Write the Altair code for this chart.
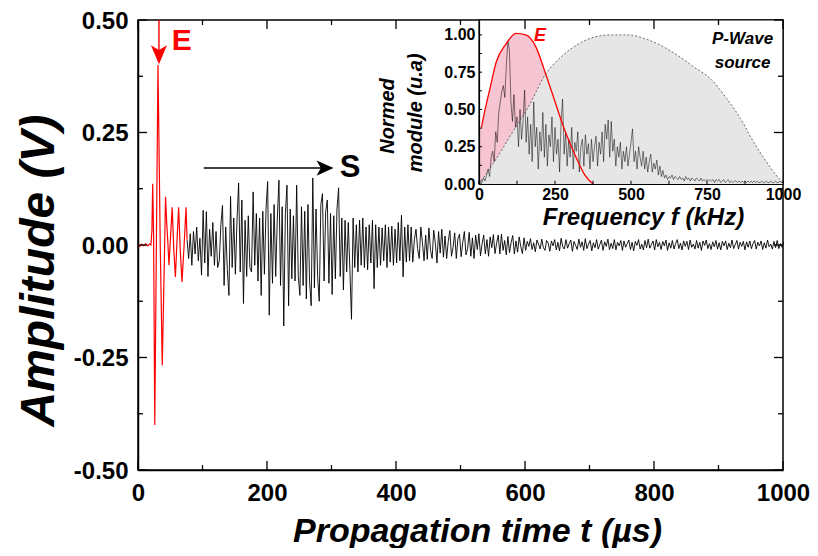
import altair as alt
import pandas as pd

F = "Liberation Sans, Arial, sans-serif"

# ---------------- main signal ----------------
# red part (E wave), time in µs, amplitude in V
red_t = [0, 3, 6, 9, 12, 15, 18, 20, 21.5, 22.8, 24.2, 26, 28.5, 31, 34.5, 37.6, 40.5, 42.7,
         44.5, 46.5, 48, 50.5, 53, 55.5, 58, 60.5, 63, 65.5, 68.2, 71.5, 74.5, 76]
red_v = [0.0, -0.003, 0.002, -0.002, 0.003, -0.002, 0.002, 0.0, 0.03, 0.136, 0.02, -0.40, 0.0,
         0.40, 0.0, -0.267, -0.06, 0.107, 0.05, 0.0, -0.045, 0.02, 0.084, -0.01, -0.071, 0.01,
         0.084, -0.01, -0.082, 0.0, 0.084, 0.012]

# black part (S coda), mV, sampled every 2.5 µs from 76 µs
black_mv = [
    12, -30, 25, -45, 30, -20, 40, -35, 15, -67, 77, -40, 74, -70, 35, -25, 50, -45, 30, -50,
    -35, 45, 88, -90, 40, -55, -112, 108, -50, 60, -65, 55, 138, -60, 100, -130, 55, -70, 65, -50,
    -60, 118, -45, 70, -80, 60, -112, 75, -65, 80, 141, -156, 70, -85, 90, -70, 60, 144, -90, 85,
    -180, 70, 133, -135, 80, -75, 65, -80, 133, -70, -112, 85, -90, 75, -120, 90, -80, -135, 149, -95,
    80, -70, -125, 90, 114, -80, 75, 100, -85, 70, -110, 65, -75, 80, 127, -70, 60, -100, 55, -60,
    50, -55, -165, 60, -50, 45, -60, 55, -45, 60, -50, 40, -55, 45, -40, 55, -97, 45, -50, 40,
    -45, 38, -35, 45, -50, 40, -38, 42, -45, 35, -40, 50, -35, 66, -71, 40, -38, 45, -35, 40,
    -38, 12, 35, -8, -30, 40, 5, -35, 22, -32, 38, -12, -30, 33, 4, -40, 30, -18, 35, -27,
    20, -30, 8, 32, -25, -5, 27, -30, 14, 24, -26, 6, 30, -22, -8, 28, -25, 16, -30, 22,
    -10, 25, -24, 3, 22, -20, 12, -25, 18, -6, 23, -19, 4, 22, -20, 24, -12, 10, -22, 19,
    -17, 6, 21, -20, 9, -16, 18, -4, -19, 16,
    -12, 8, -3, 14, -10, 5, -15, 11, 2, -9, 13, -6, -12, 10, 4, -14, 9, -2, 12, -11,
    6, -13, 15, -4, -9, 12, -7, 3, 11, -14, 8, -1, -10, 13, -5, 7, -12, 14, -8, 2,
    10, -13, 5, -6, 12, -9, 1, 11, -12, 7, -3, 13, -10, 4, -8, 12, -11, 6, -2, 10,
    -12, 9, -5, 3, 11, -10, 6, -13, 8, -1, 12, -9, 2, -11, 10, -6, 13, -7, 1, 9,
    -11, 12, -4, 6, -10, 8, -2, 11, -12, 5, -7, 10, -9, 3, 12, -8, 4, -11, 9, -3,
    8, -10, 11, -5, 2, -9, 10, -7, 6, -12, 9, -1, 11, -8, 3, -10, 7, -4, 10, -9,
    5, -11, 8, -2, 9, -10, 4, -6, 11, -8, 1, 10, -9, 6, -3, 8, -11, 7, -5, 9,
    -8, 3, 10, -9, 6, -2, 9, -10, 5, -7, 11, -4, 2, -9, 8, -6, 10, -8, 3, -5, 6]
BLACK_T0, BLACK_DT = 76, 2.5

# ---------------- inset spectra ----------------
# measured spectrum, sampled every 5 kHz from 0
spec_mod = [
    0.00, 0.02, 0.01, 0.04, 0.02, 0.06, 0.10, 0.05, 0.18, 0.22, 0.15, 0.35, 0.28, 0.48, 0.55, 0.62, 0.66, 0.58, 0.80, 0.96,
    0.90, 0.55, 0.42, 0.60, 0.38, 0.45, 0.25, 0.50, 0.30, 0.42, 0.63, 0.28, 0.45, 0.20, 0.40, 0.15, 0.55, 0.25, 0.38, 0.10,
    0.35, 0.22, 0.48, 0.18, 0.40, 0.12, 0.33, 0.25, 0.45, 0.15, 0.38, 0.20, 0.30, 0.08, 0.42, 0.57, 0.20, 0.35, 0.12, 0.30,
    0.18, 0.38, 0.10, 0.28, 0.22, 0.35, 0.08, 0.25, 0.30, 0.12, 0.33, 0.20, 0.27, 0.10, 0.30, 0.15, 0.25, 0.32, 0.12, 0.28,
    0.20, 0.35, 0.15, 0.40, 0.30, 0.43, 0.18, 0.42, 0.22, 0.30, 0.12, 0.25, 0.18, 0.28, 0.10, 0.22, 0.15, 0.25, 0.12, 0.20,
    0.28, 0.37, 0.15, 0.22, 0.10, 0.25, 0.18, 0.12, 0.22, 0.10, 0.18, 0.08, 0.15, 0.20, 0.08, 0.14, 0.10, 0.16, 0.06, 0.12,
    0.05, 0.09, 0.04, 0.06, 0.03, 0.05, 0.04, 0.06, 0.03, 0.05, 0.04, 0.03, 0.05, 0.03, 0.04, 0.02, 0.05, 0.03, 0.04, 0.02,
    0.04, 0.03, 0.02, 0.04, 0.03, 0.02, 0.04, 0.02, 0.03, 0.02, 0.03, 0.02, 0.03, 0.02, 0.03, 0.01, 0.03, 0.02, 0.03, 0.01,
    0.02, 0.03, 0.01, 0.02, 0.03, 0.01, 0.02, 0.01, 0.02, 0.02, 0.01, 0.02, 0.01, 0.02, 0.01, 0.02, 0.01, 0.02, 0.01, 0.02,
    0.01, 0.02, 0.01, 0.02, 0.01, 0.01, 0.02, 0.01, 0.01, 0.02, 0.01, 0.01, 0.02, 0.01, 0.01, 0.02, 0.01, 0.01, 0.02, 0.01, 0.01]
SPEC_DF = 5
e_f = [0, 8, 20, 36, 57, 89, 122, 154, 187, 219, 252, 284, 317, 349, 375]
e_v = [0.36, 0.38, 0.50, 0.64, 0.82, 0.94, 1.01, 1.0, 0.92, 0.74, 0.54, 0.35, 0.19, 0.058, 0.0]
pw_f = [0, 57, 111, 166, 214, 274, 328, 382, 436, 490, 545, 598, 653, 707, 761, 815, 860, 901, 945, 977, 1000]
pw_v = [0, 0.17, 0.35, 0.53, 0.72, 0.86, 0.94, 0.987, 1.0, 1.0, 0.975, 0.93, 0.863, 0.785, 0.707,
        0.573, 0.44, 0.29, 0.15, 0.06, 0.01]

# ---------------- ticks / labels ----------------
x_major = [0, 200, 400, 600, 800, 1000]
x_minor = [100, 300, 500, 700, 900]
y_major = [-0.5, -0.25, 0.0, 0.25, 0.5]
y_minor = [-0.375, -0.125, 0.125, 0.375]
fx_major = [0, 250, 500, 750, 1000]
fx_minor = [125, 375, 625, 875]
fy_major = [0.0, 0.25, 0.5, 0.75, 1.0]
fy_minor = [0.125, 0.375, 0.625, 0.875]

# annotations (data coordinates)
E_t, E_tip = 32.5, 0.423
S_t0, S_t1, S_a = 102, 290, 0.171
E_lbl = (68, 0.453)
S_lbl = (329, 0.171)
inset_E = (201, 0.99)
inset_src = [(867, 0.97, "P-Wave"), (867, 0.81, "source")]
inset_ytitle = [(-280, 0.456, "Normed"), (-186, 0.477, "module (u.a)")]

# ---------------- layout ----------------
W, H = 645, 450
INSET_X = [341, W]
INSET_Y = [164, 0]

xs = alt.Scale(domain=[0, 1000], nice=False, zero=False)
ys = alt.Scale(domain=[-0.5, 0.5], nice=False, zero=False)
xi = alt.Scale(domain=[0, 1000], range=INSET_X, nice=False, zero=False)
yi = alt.Scale(domain=[0, 1.1], range=INSET_Y, nice=False, zero=False)


def XM(f, axis=None):
    return alt.X(f, scale=xs, axis=axis)


def YM(f, axis=None):
    return alt.Y(f, scale=ys, axis=axis)


def XI(f, axis=None):
    return alt.X(f, scale=xi, axis=axis)


def YI(f, axis=None):
    return alt.Y(f, scale=yi, axis=axis)


black_df = pd.DataFrame({"t": [BLACK_T0 + BLACK_DT * i for i in range(len(black_mv))],
                         "v": [m / 1000 for m in black_mv]})
red_df = pd.DataFrame({"t": red_t, "v": red_v})

main_x_axis = alt.Axis(orient="bottom", values=x_major, format="d", labelFontSize=24, labelPadding=11,
                       domainWidth=1.5, title="Propagation time t (µs)", titleFontSize=34,
                       titleX=339, titleY=71, titleAlign="center", titleBaseline="alphabetic")
main_y_axis = alt.Axis(orient="left", values=y_major,
                       labelExpr="(datum.value < 0 ? '-' : '') + format(abs(datum.value), '.2f')",
                       labelFontSize=24, labelPadding=10, labelOffset=1, domainWidth=1.5,
                       title="Amplitude (V)", titleFontSize=48, titleAngle=270, titleX=-85, titleY=250,
                       titleAlign="center", titleBaseline="alphabetic")

black = alt.Chart(black_df).mark_line(color="black", strokeWidth=0.9).encode(
    x=XM("t:Q", main_x_axis), y=YM("v:Q", main_y_axis))
red = alt.Chart(red_df).mark_line(color="#ff0000", strokeWidth=1.2).encode(x=XM("t:Q"), y=YM("v:Q"))

e_rule = alt.Chart(pd.DataFrame({"t": [E_t], "a0": [0.5], "a1": [E_tip]})).mark_rule(
    color="#ff0000", strokeWidth=1.4).encode(x=XM("t:Q"), y=YM("a0:Q"), y2="a1:Q")
e_head = alt.Chart(pd.DataFrame({"t": [E_t], "a": [E_tip]})).mark_point(
    shape="M0,1L-0.85,-1L0,-0.5L0.85,-1Z", size=361, filled=True, color="#ff0000", opacity=1).encode(
    x=XM("t:Q"), y=YM("a:Q"))
s_rule = alt.Chart(pd.DataFrame({"t0": [S_t0], "t1": [S_t1], "a": [S_a]})).mark_rule(
    color="black", strokeWidth=1.4).encode(x=XM("t0:Q"), x2="t1:Q", y=YM("a:Q"))
s_head = alt.Chart(pd.DataFrame({"t": [S_t1], "a": [S_a]})).mark_point(
    shape="M1,0L-1,-0.9L-0.5,0L-1,0.9Z", size=289, filled=True, color="black", opacity=1).encode(
    x=XM("t:Q"), y=YM("a:Q"))
e_txt = alt.Chart(pd.DataFrame({"t": [E_lbl[0]], "a": [E_lbl[1]], "s": ["E"]})).mark_text(
    font=F, fontWeight="bold", fontSize=30, color="#ff0000", align="center", baseline="middle").encode(
    x=XM("t:Q"), y=YM("a:Q"), text="s:N")
s_txt = alt.Chart(pd.DataFrame({"t": [S_lbl[0]], "a": [S_lbl[1]], "s": ["S"]})).mark_text(
    font=F, fontWeight="bold", fontSize=31, color="black", align="center", baseline="middle").encode(
    x=XM("t:Q"), y=YM("a:Q"), text="s:N")

# ---------------- inset ----------------
inset_x_axis = alt.Axis(orient="bottom", offset=-(H - INSET_Y[0]), values=fx_major, format="d",
                        labelFontSize=16, labelPadding=2, domainWidth=1.2, zindex=1,
                        title="Frequency f (kHz)", titleFontSize=24, titleX=505, titleY=40,
                        titleAlign="center", titleBaseline="alphabetic")
inset_y_axis = alt.Axis(orient="left", offset=-INSET_X[0], values=fy_major, format=".2f",
                        labelFontSize=16, labelPadding=4, domainWidth=1.2, zindex=1, title="")

bg = alt.Chart(pd.DataFrame({"f0": [0], "f1": [1000], "v0": [0.0], "v1": [1.1]})).mark_rect(
    fill="white", stroke="black", strokeWidth=1.2).encode(
    x=XI("f0:Q", inset_x_axis), x2="f1:Q", y=YI("v0:Q", inset_y_axis), y2="v1:Q")

e_df = pd.DataFrame({"f": e_f, "v": e_v})
pw_df = pd.DataFrame({"f": pw_f, "v": pw_v})
spec_df = pd.DataFrame({"f": [SPEC_DF * i for i in range(len(spec_mod))], "v": spec_mod})

pink = alt.Chart(e_df).mark_area(color="#f7c4d2", interpolate="monotone").encode(x=XI("f:Q"), y=YI("v:Q"))
grey = alt.Chart(pw_df).mark_area(color="#e6e6e6", interpolate="monotone").encode(x=XI("f:Q"), y=YI("v:Q"))
spec = alt.Chart(spec_df).mark_line(color="black", strokeWidth=0.6, opacity=0.85).encode(
    x=XI("f:Q"), y=YI("v:Q"))
e_line = alt.Chart(e_df).transform_filter("datum.f >= 8").mark_line(
    color="#ff0000", strokeWidth=1.3, interpolate="monotone").encode(x=XI("f:Q"), y=YI("v:Q"))
pw_line = alt.Chart(pw_df).mark_line(color="#444444", strokeWidth=0.8, strokeDash=[2, 2],
                                     interpolate="monotone").encode(x=XI("f:Q"), y=YI("v:Q"))

it_rows = [(f, f, 0.0, 0.022) for f in fx_major + fx_minor] + \
          [(0, 10, v, v) for v in fy_major + fy_minor]
it_df = pd.DataFrame(it_rows, columns=["x", "x2", "y", "y2"])
in_ticks = alt.Chart(it_df).mark_rule(color="black", strokeWidth=1).encode(
    x=XI("x:Q"), x2="x2:Q", y=YI("y:Q"), y2="y2:Q")

ie_txt = alt.Chart(pd.DataFrame({"f": [inset_E[0]], "v": [inset_E[1]], "s": ["E"]})).mark_text(
    font=F, fontWeight="bold", fontStyle="italic", fontSize=18, color="#ff0000",
    align="center", baseline="middle").encode(x=XI("f:Q"), y=YI("v:Q"), text="s:N")
src_txt = alt.Chart(pd.DataFrame({"f": [r[0] for r in inset_src], "v": [r[1] for r in inset_src],
                                  "s": [r[2] for r in inset_src]})).mark_text(
    font=F, fontWeight="bold", fontStyle="italic", fontSize=17, color="black",
    align="center", baseline="middle").encode(x=XI("f:Q"), y=YI("v:Q"), text="s:N")
ytl_txt = alt.Chart(pd.DataFrame({"f": [r[0] for r in inset_ytitle], "v": [r[1] for r in inset_ytitle],
                                  "s": [r[2] for r in inset_ytitle]})).mark_text(
    font=F, fontWeight="bold", fontStyle="italic", fontSize=20, color="black", angle=270,
    align="center", baseline="alphabetic").encode(x=XI("f:Q"), y=YI("v:Q"), text="s:N")

# ---------------- frame ticks (inward) ----------------
MAJ_X, MIN_X = 0.02, 0.011      # tick lengths on x edges (V)
MAJ_Y, MIN_Y = 14.0, 7.8        # tick lengths on y edges (µs)
rows = []
for t in x_major:
    rows += [(t, t, -0.5, -0.5 + MAJ_X), (t, t, 0.5, 0.5 - MAJ_X)]
for t in x_minor:
    rows += [(t, t, -0.5, -0.5 + MIN_X), (t, t, 0.5, 0.5 - MIN_X)]
for a in y_major:
    rows += [(0, MAJ_Y, a, a), (1000, 1000 - MAJ_Y, a, a)]
for a in y_minor:
    rows += [(0, MIN_Y, a, a), (1000, 1000 - MIN_Y, a, a)]
tk_df = pd.DataFrame(rows, columns=["x", "x2", "y", "y2"])
frame_ticks = alt.Chart(tk_df).mark_rule(color="black", strokeWidth=1.3).encode(
    x=XM("x:Q"), x2="x2:Q", y=YM("y:Q"), y2="y2:Q")

chart = alt.layer(
    black, red, e_rule, e_head, s_rule, s_head, e_txt, s_txt,
    bg, pink, grey, spec, e_line, pw_line, in_ticks, ie_txt, src_txt, ytl_txt,
    frame_ticks,
).resolve_scale(
    x="independent", y="independent"
).properties(
    width=W, height=H,
    autosize=alt.AutoSizeParams(type="none"),
    padding={"left": 130, "top": 12, "right": 27, "bottom": 78},
).configure_view(stroke="black", strokeWidth=1.5).configure_axis(
    labelFont=F, titleFont=F, labelFontWeight="bold", titleFontWeight="bold",
    titleFontStyle="italic", labelColor="black", titleColor="black", domainColor="black",
    grid=False, ticks=False, tickSize=0, labelFlush=False, labelOverlap=False,
)

chart.save("out.html", embed_options={"renderer": "svg", "actions": False})
